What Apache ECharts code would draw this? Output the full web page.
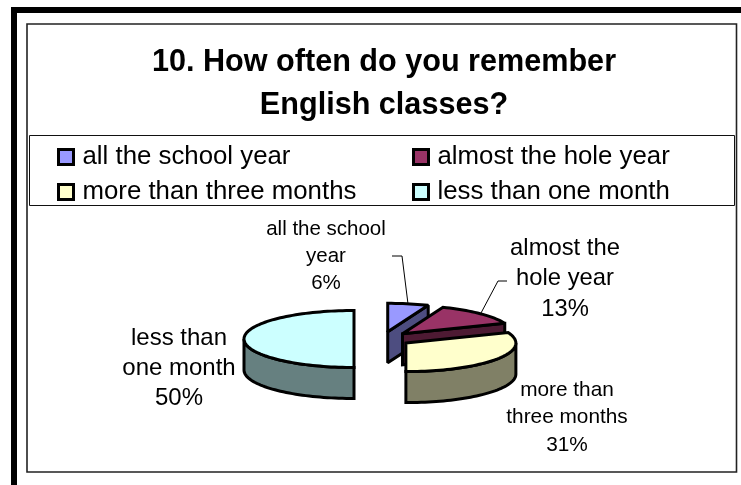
<!DOCTYPE html>
<html><head><meta charset="utf-8">
<style>html,body{margin:0;padding:0;background:#fff}#c{width:741px;height:485px}</style>
<script src="https://cdn.jsdelivr.net/npm/echarts@6/dist/echarts.min.js"></script>
</head><body><div id="c"></div>
<script>
const categories = ['all the school year','almost the hole year','more than three months','less than one month'];
const values = [6,13,31,50];
const topColors = ['#9999FF','#993366','#FFFFCC','#CCFFFF'];
const sideColors = ['#4D4D80','#4D1A33','#808066','#668080'];
const labelLines = [['all the school','year'],['almost the','hole year'],['more than','three months'],['less than','one month']];
const labelPos = [[326,229,20.5,27],[565,248,23.8,30.5],[567,390,20.8,27.5],[179,338,24,30]];
const drawOrder = [0,1,3,2];
const legendPos = [[57,144],[412,144],[57,179],[412,179]];
const FONT = '"Liberation Sans", Arial, sans-serif';
const P = {cx:382.4, cy:339, a:110, b:28.5, depth:31, ex:28.4, ey:7.3};
const total = values.reduce((s,v)=>s+v,0);
const starts = values.map((_,i)=>values.slice(0,i).reduce((s,v)=>s+v,0)/total*360);
const rad = d=>d*Math.PI/180;

function sliceRender(idx){
  return function(params, api){
    const t1 = starts[idx], t2 = t1 + api.value(0)/total*360, mid=(t1+t2)/2;
    const ax = P.cx + P.ex*Math.sin(rad(mid)), ay = P.cy - P.ey*Math.cos(rad(mid));
    const pt = (t,dy)=>[ax+P.a*Math.sin(rad(t)), ay-P.b*Math.cos(rad(t))+(dy||0)];
    const arc = (s,e,dy)=>{const n=Math.max(2,Math.ceil(Math.abs(e-s)/2)),o=[];for(let i=0;i<=n;i++)o.push(pt(s+(e-s)*i/n,dy));return o;};
    const ls = {stroke:'#000',lineWidth:3,lineJoin:'miter',miterLimit:2};
    const children = [];
    if(t2<179.9){
      children.push({type:'polygon',shape:{points:[[ax,ay],pt(t2),pt(t2,P.depth),[ax,ay+P.depth]]},style:{fill:sideColors[idx],...ls}});
    }
    const rs=Math.max(t1,90), re=Math.min(t2,270);
    if(re>rs){
      const poly = arc(rs,re,0).concat(arc(re,rs,P.depth));
      children.push({type:'polygon',shape:{points:poly},style:{fill:sideColors[idx],...ls}});
    }
    children.push({type:'polygon',shape:{points:[[ax,ay]].concat(arc(t1,t2,0))},style:{fill:topColors[idx],...ls}});
    return {type:'group',children};
  };
}

const labelTexts = categories.map((c,i)=>{
  const [x,y,fs,lh]=labelPos[i];
  return {type:'text',x:x,y:y-lh/2,silent:true,style:{text:labelLines[i].concat([values[i]+'%']).join('\n'),
    font:fs+'px '+FONT,lineHeight:lh,align:'center',verticalAlign:'top',fill:'#000'}};
});

const chart = echarts.init(document.getElementById('c'),null,{renderer:'canvas'});
chart.setOption({
  animation:false,
  backgroundColor:'#fff',
  title:{text:'10. How often do you remember\nEnglish classes?',left:379,top:36,textAlign:'center',
    textStyle:{fontFamily:FONT,fontWeight:'bold',fontSize:30.6,lineHeight:43,color:'#000'}},
  legend:categories.map((c,i)=>({
    data:[c],left:legendPos[i][0],top:legendPos[i][1],padding:0,itemWidth:15,itemHeight:15,itemGap:0,selectedMode:false,
    icon:'rect',
    itemStyle:{borderColor:'#000',borderWidth:3},
    textStyle:{fontFamily:FONT,fontSize:25.8,color:'#000',padding:[0,0,0,4]}
  })),
  graphic:[
    {type:'rect',shape:{x:11,y:7,width:730,height:6},style:{fill:'#000'},silent:true},
    {type:'rect',shape:{x:11,y:7,width:6,height:478},style:{fill:'#000'},silent:true},
    {type:'rect',shape:{x:27,y:24,width:709.5,height:448},style:{fill:'none',stroke:'#222',lineWidth:1.6},silent:true,z:-1},
    {type:'rect',shape:{x:29.5,y:135.5,width:705,height:70},style:{fill:'none',stroke:'#111',lineWidth:1},silent:true,z:-1},
    {type:'polyline',shape:{points:[[392,256],[402,256],[408,304]]},style:{stroke:'#000',lineWidth:1,fill:'none'},silent:true,z:-1},
    {type:'polyline',shape:{points:[[507,281],[498,281],[481,313]]},style:{stroke:'#000',lineWidth:1,fill:'none'},silent:true,z:-1},
    ...labelTexts
  ],
  series:drawOrder.map(i=>({
    type:'custom',name:categories[i],coordinateSystem:'none',
    itemStyle:{color:topColors[i]},silent:true,
    renderItem:sliceRender(i),data:[[values[i]]],z:2+drawOrder.indexOf(i)
  }))
});
</script></body></html>
